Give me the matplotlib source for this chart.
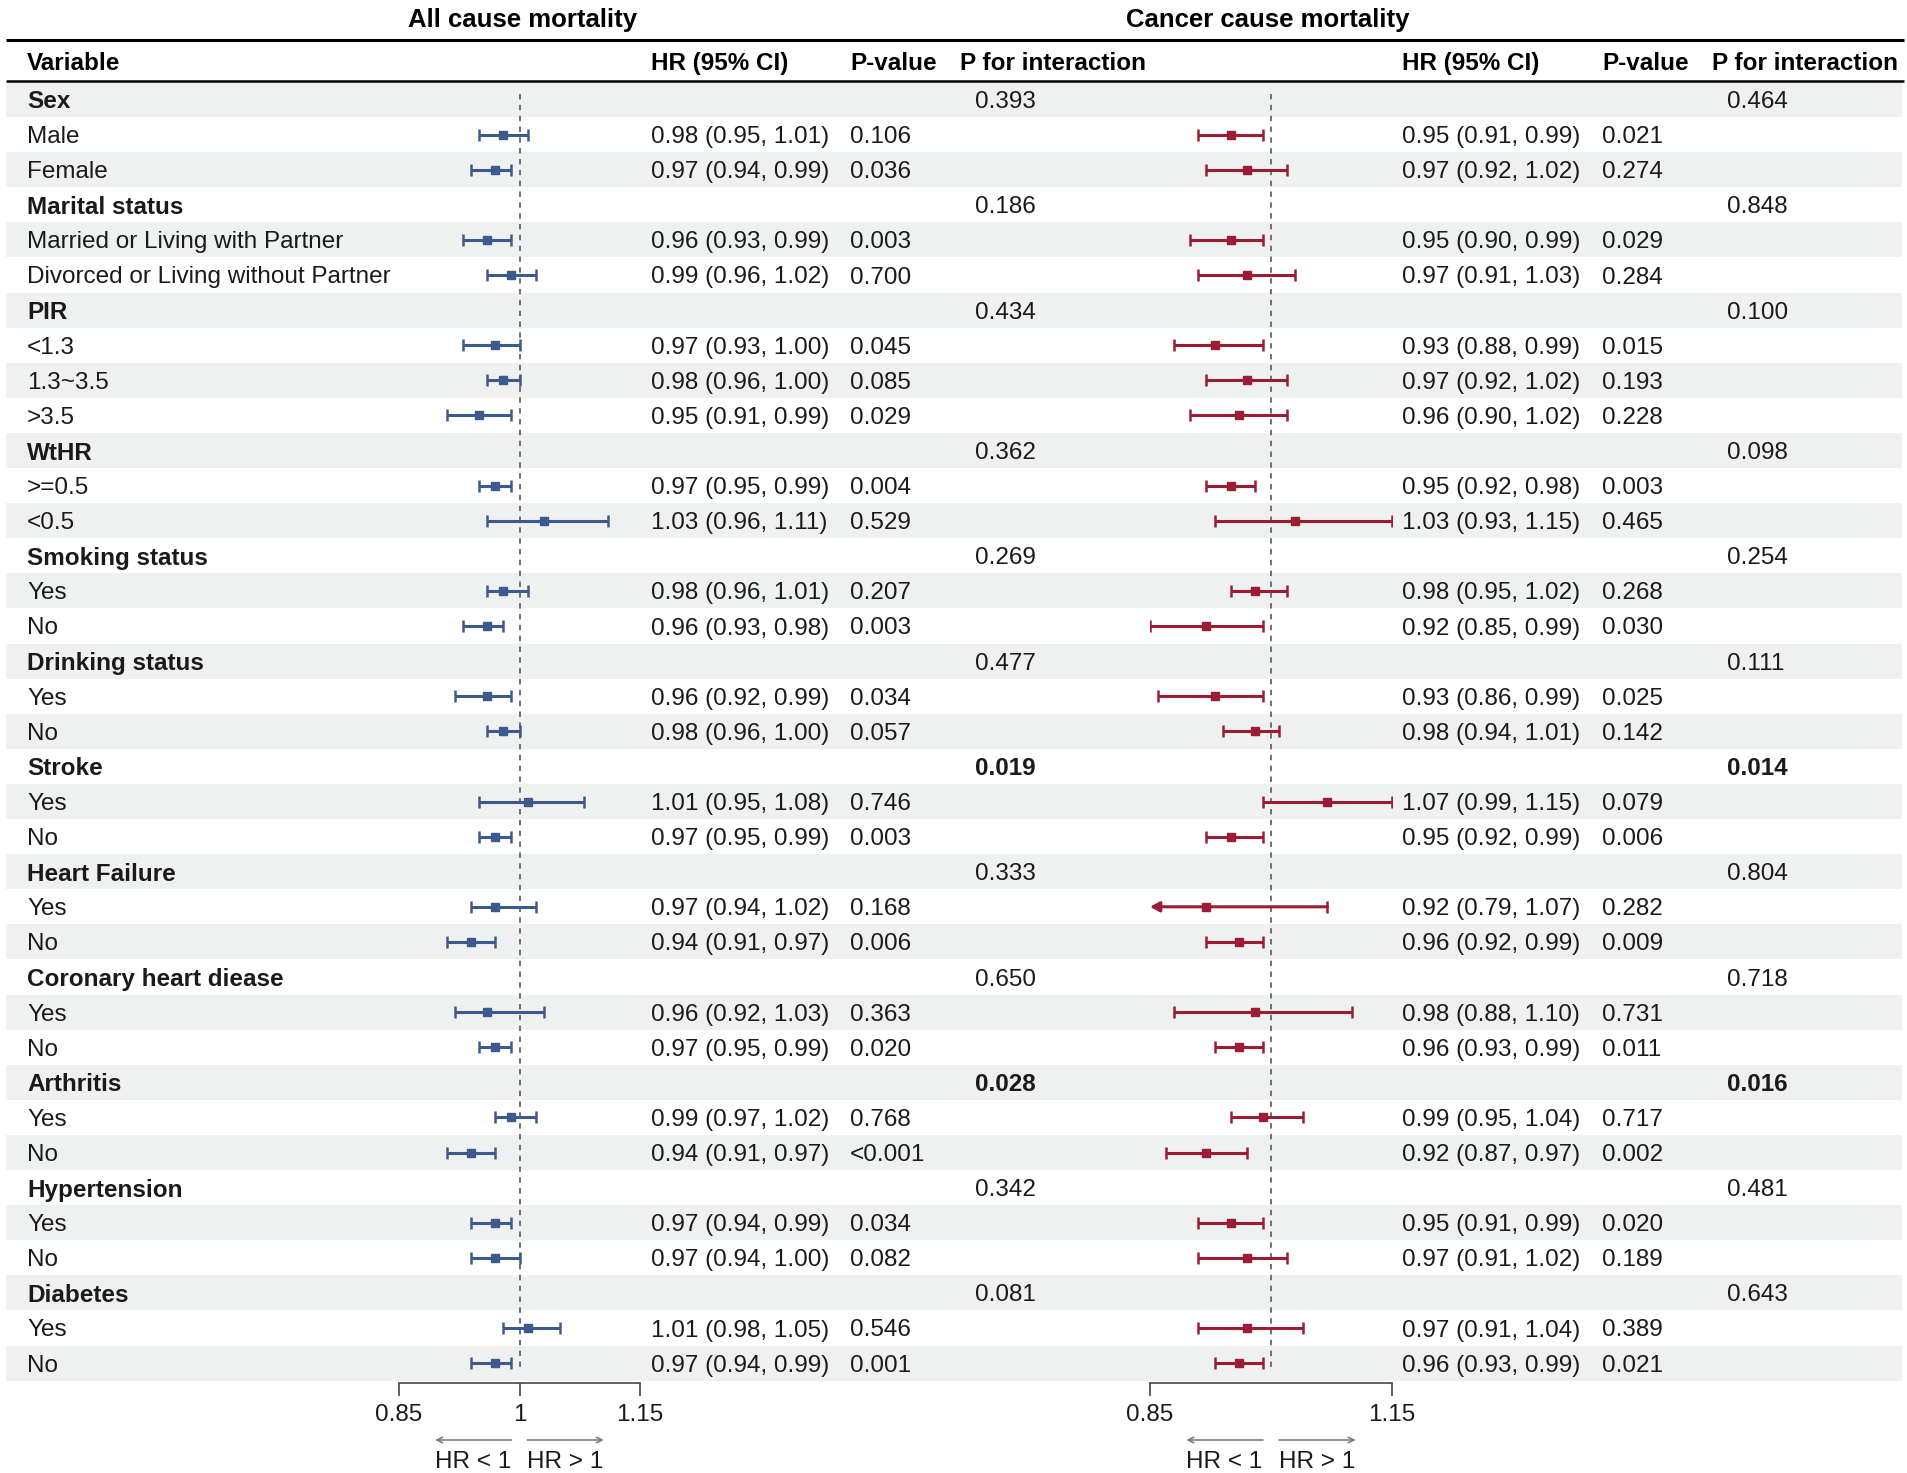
import matplotlib
matplotlib.use("Agg")
import matplotlib.pyplot as plt
from matplotlib.patches import Rectangle

plt.rcParams['font.family'] = ['Liberation Sans', 'DejaVu Sans']

# ---- data ----
groups = ['Sex', 'Marital status', 'PIR', 'WtHR', 'Smoking status', 'Drinking status',
          'Stroke', 'Heart Failure', 'Coronary heart diease', 'Arthritis',
          'Hypertension', 'Diabetes']

subgroups = [['Male', 'Female'],
             ['Married or Living with Partner', 'Divorced or Living without Partner'],
             ['<1.3', '1.3~3.5', '>3.5'],
             ['>=0.5', '<0.5'],
             ['Yes', 'No'], ['Yes', 'No'], ['Yes', 'No'], ['Yes', 'No'],
             ['Yes', 'No'], ['Yes', 'No'], ['Yes', 'No'], ['Yes', 'No']]

# All cause mortality
all_hr = [0.98, 0.97, 0.96, 0.99, 0.97, 0.98, 0.95, 0.97, 1.03, 0.98, 0.96, 0.96, 0.98,
          1.01, 0.97, 0.97, 0.94, 0.96, 0.97, 0.99, 0.94, 0.97, 0.97, 1.01, 0.97]
all_lo = [0.95, 0.94, 0.93, 0.96, 0.93, 0.96, 0.91, 0.95, 0.96, 0.96, 0.93, 0.92, 0.96,
          0.95, 0.95, 0.94, 0.91, 0.92, 0.95, 0.97, 0.91, 0.94, 0.94, 0.98, 0.94]
all_hi = [1.01, 0.99, 0.99, 1.02, 1.00, 1.00, 0.99, 0.99, 1.11, 1.01, 0.98, 0.99, 1.00,
          1.08, 0.99, 1.02, 0.97, 1.03, 0.99, 1.02, 0.97, 0.99, 1.00, 1.05, 0.99]
all_p = ['0.106', '0.036', '0.003', '0.700', '0.045', '0.085', '0.029', '0.004', '0.529',
         '0.207', '0.003', '0.034', '0.057', '0.746', '0.003', '0.168', '0.006', '0.363',
         '0.020', '0.768', '<0.001', '0.034', '0.082', '0.546', '0.001']
all_pint = ['0.393', '0.186', '0.434', '0.362', '0.269', '0.477', '0.019', '0.333',
            '0.650', '0.028', '0.342', '0.081']

# Cancer cause mortality
can_hr = [0.95, 0.97, 0.95, 0.97, 0.93, 0.97, 0.96, 0.95, 1.03, 0.98, 0.92, 0.93, 0.98,
          1.07, 0.95, 0.92, 0.96, 0.98, 0.96, 0.99, 0.92, 0.95, 0.97, 0.97, 0.96]
can_lo = [0.91, 0.92, 0.90, 0.91, 0.88, 0.92, 0.90, 0.92, 0.93, 0.95, 0.85, 0.86, 0.94,
          0.99, 0.92, 0.79, 0.92, 0.88, 0.93, 0.95, 0.87, 0.91, 0.91, 0.91, 0.93]
can_hi = [0.99, 1.02, 0.99, 1.03, 0.99, 1.02, 1.02, 0.98, 1.15, 1.02, 0.99, 0.99, 1.01,
          1.15, 0.99, 1.07, 0.99, 1.10, 0.99, 1.04, 0.97, 0.99, 1.02, 1.04, 0.99]
can_p = ['0.021', '0.274', '0.029', '0.284', '0.015', '0.193', '0.228', '0.003', '0.465',
         '0.268', '0.030', '0.025', '0.142', '0.079', '0.006', '0.282', '0.009', '0.731',
         '0.011', '0.717', '0.002', '0.020', '0.189', '0.389', '0.021']
can_pint = ['0.464', '0.848', '0.100', '0.098', '0.254', '0.111', '0.014', '0.804',
            '0.718', '0.016', '0.481', '0.643']

# ---- build the row list ----
rows = []   # (label, is_group, group index, subgroup index)
k = 0
for g, name in enumerate(groups):
    rows.append((name, True, g, None))
    for s in subgroups[g]:
        rows.append((s, False, g, k))
        k += 1
n_rows = len(rows)

# ---- layout (pixels) ----
W, H = 1908, 1473
row0, pitch = 99.5, 35.1
fs = 17.5
txt_col = '#1a1a1a'
blue = '#3d5a8c'
red = '#9c1c33'
shade = '#eff0f0'
va = 'center_baseline'

fig = plt.figure(figsize=(W / 100, H / 100), dpi=100)
bg = fig.add_axes([0, 0, 1, 1])
bg.set_xlim(0, W)
bg.set_ylim(H, 0)
bg.axis('off')

def row_y(i):
    return row0 + i * pitch

# shaded rows
for i in range(n_rows):
    if i % 2 == 0:
        bg.add_patch(Rectangle((6, row_y(i) - pitch / 2), W - 12, pitch,
                               facecolor=shade, edgecolor='none', zorder=0))

# titles and header
bg.text(523, 17, 'All cause mortality', ha='center', va=va, fontsize=18.5,
        fontweight='bold', color='black')
bg.text(1268, 17, 'Cancer cause mortality', ha='center', va=va, fontsize=18.5,
        fontweight='bold', color='black')
bg.plot([6, W - 4], [40, 40], color='black', lw=2.2, solid_capstyle='butt')
bg.plot([6, W - 4], [81, 81], color='black', lw=1.8, solid_capstyle='butt')

headers = [(27, 'Variable'), (651, 'HR (95% CI)'), (850, 'P-value'),
           (960, 'P for interaction'), (1402, 'HR (95% CI)'), (1602, 'P-value'),
           (1712, 'P for interaction')]
for x, h in headers:
    bg.text(x, 61, h, ha='left', va=va, fontsize=fs, fontweight='bold', color='black')

# table text
for i, (label, is_group, g, k) in enumerate(rows):
    y = row_y(i)
    bg.text(27, y, label, ha='left', va=va, fontsize=fs, color=txt_col,
            fontweight='bold' if is_group else 'normal')
    if is_group:
        for x, pint in [(975, all_pint[g]), (1727, can_pint[g])]:
            bold = float(pint) < 0.05
            bg.text(x, y, pint, ha='left', va=va, fontsize=fs, color=txt_col,
                    fontweight='bold' if bold else 'normal')
    else:
        bg.text(651, y, '%.2f (%.2f, %.2f)' % (all_hr[k], all_lo[k], all_hi[k]),
                ha='left', va=va, fontsize=fs, color=txt_col)
        bg.text(850, y, all_p[k], ha='left', va=va, fontsize=fs, color=txt_col)
        bg.text(1402, y, '%.2f (%.2f, %.2f)' % (can_hr[k], can_lo[k], can_hi[k]),
                ha='left', va=va, fontsize=fs, color=txt_col)
        bg.text(1602, y, can_p[k], ha='left', va=va, fontsize=fs, color=txt_col)

# ---- forest panels ----
top_px = row_y(0) - pitch / 2
bot_px = row_y(n_rows - 1) + pitch / 2
xmin, xmax = 0.85, 1.15

def forest(x0, x1, hr, lo, hi, color, ticks, ticklabels):
    ax = fig.add_axes([x0 / W, 1 - bot_px / H, (x1 - x0) / W, (bot_px - top_px) / H])
    ax.patch.set_alpha(0)
    ax.set_xlim(xmin, xmax)
    ax.set_ylim(n_rows - 0.5, -0.5)
    for s in ['top', 'right', 'left']:
        ax.spines[s].set_visible(False)
    ax.spines['bottom'].set_color('#444444')
    ax.spines['bottom'].set_linewidth(1.2)
    ax.spines['bottom'].set_position(('outward', 2))
    ax.set_yticks([])
    ax.set_xticks(ticks)
    ax.set_xticklabels(ticklabels)
    ax.tick_params(axis='x', direction='out', length=9.5, width=1.2, color='#444444',
                   pad=5, labelsize=fs, labelcolor=txt_col)
    ax.vlines(1, -0.16, n_rows - 0.86, color='#666666', lw=1.3, ls=(0, (3, 3)), zorder=1)

    for i, (label, is_group, g, k) in enumerate(rows):
        if is_group:
            continue
        l = max(lo[k], xmin)
        h = min(hi[k], xmax)
        if lo[k] < xmin:
            ax.annotate('', xy=(xmin, i), xytext=(h, i),
                        arrowprops=dict(arrowstyle='-|>,head_length=0.55,head_width=0.3',
                                        color=color, lw=2.2, shrinkA=0, shrinkB=0),
                        zorder=2)
        else:
            ax.plot([l, h], [i, i], color=color, lw=2.2, zorder=2, solid_capstyle='butt')
            ax.plot([l], [i], marker='|', ms=8.5, mew=1.8, color=color, zorder=2)
        ax.plot([h], [i], marker='|', ms=8.5, mew=1.8, color=color, zorder=2)
        ax.plot([hr[k]], [i], marker='s', ms=5.5, color=color, zorder=3)

    # direction arrows below the axis
    ya = -(1440 - bot_px) / (bot_px - top_px)
    yl = -(1460 - bot_px) / (bot_px - top_px)
    tr = ax.get_xaxis_transform()
    ax.annotate('', xy=(0.895, ya), xytext=(0.99, ya), xycoords=tr,
                arrowprops=dict(arrowstyle='->', color='#808080', lw=1.2,
                                shrinkA=0, shrinkB=0))
    ax.annotate('', xy=(1.105, ya), xytext=(1.01, ya), xycoords=tr,
                arrowprops=dict(arrowstyle='->', color='#808080', lw=1.2,
                                shrinkA=0, shrinkB=0))
    ax.text(0.942, yl, 'HR < 1', transform=tr, ha='center', va=va,
            fontsize=fs, color=txt_col)
    ax.text(1.057, yl, 'HR > 1', transform=tr, ha='center', va=va,
            fontsize=fs, color=txt_col)
    return ax

forest(399, 640, all_hr, all_lo, all_hi, blue, [0.85, 1, 1.15], ['0.85', '1', '1.15'])
forest(1150, 1392, can_hr, can_lo, can_hi, red, [0.85, 1.15], ['0.85', '1.15'])

fig.savefig('out.png', dpi=100)
